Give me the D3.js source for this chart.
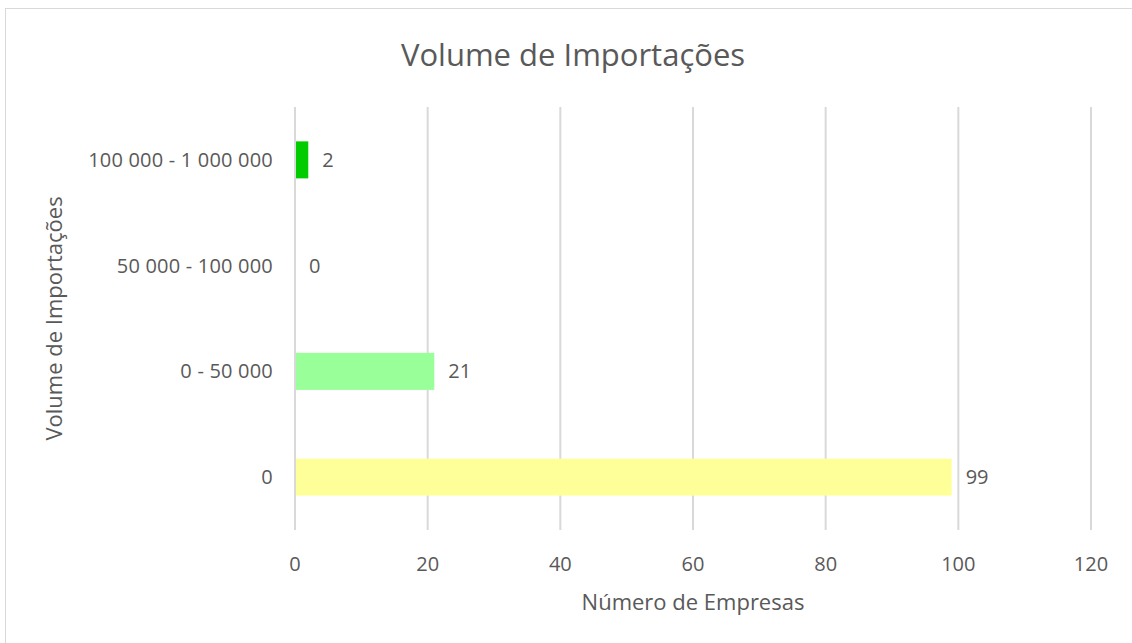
<!DOCTYPE html>
<html>
<head>
<meta charset="utf-8">
<script src="https://cdn.jsdelivr.net/npm/d3@7"></script>
<style>
  body { margin: 0; background: #fff; }
  text { font-family: "Open Sans", "Noto Sans", sans-serif; fill: #595959; }
</style>
</head>
<body>
<div id="chart"></div>
<script>
// chart data
const categories = ["0", "0 - 50 000", "50 000 - 100 000", "100 000 - 1 000 000"];
const values = [99, 21, 0, 2];
const barColors = ["#FFFF99", "#99FF99", "#99FF99", "#00CC00"];
const xTicks = [0, 20, 40, 60, 80, 100, 120];

const width = 1132, height = 643;
const margin = { top: 107, right: 41, bottom: 113, left: 295 };

const svg = d3.select("#chart")
  .append("svg")
  .attr("width", width)
  .attr("height", height);

// chart frame (only top and left edges visible in the crop)
svg.append("rect")
  .attr("x", 5.5).attr("y", 8.5)
  .attr("width", width + 10).attr("height", height + 10)
  .attr("fill", "none")
  .attr("stroke", "#d9d9d9");

const x = d3.scaleLinear()
  .domain([0, 120])
  .range([margin.left, width - margin.right]);

const y = d3.scaleBand()
  .domain(categories.slice().reverse())
  .range([margin.top, height - margin.bottom])
  .paddingInner(0.65)
  .paddingOuter(0.325);

// vertical gridlines
svg.append("g")
  .selectAll("line")
  .data(xTicks)
  .join("line")
  .attr("x1", d => x(d)).attr("x2", d => x(d))
  .attr("y1", margin.top).attr("y2", height - margin.bottom)
  .attr("stroke", "#d9d9d9")
  .attr("stroke-width", 2);

// bars
svg.append("g")
  .selectAll("rect")
  .data(categories)
  .join("rect")
  .attr("x", x(0) + 1)
  .attr("y", d => y(d))
  .attr("width", (d, i) => Math.max(0, x(values[i]) - x(0) - 1))
  .attr("height", y.bandwidth())
  .attr("fill", (d, i) => barColors[i]);

// value labels
svg.append("g")
  .selectAll("text")
  .data(categories)
  .join("text")
  .attr("x", (d, i) => x(values[i]) + 14)
  .attr("y", d => y(d) + y.bandwidth() / 2)
  .attr("dy", "0.35em")
  .style("font-size", "20px")
  .text((d, i) => values[i]);

// x axis tick labels
svg.append("g")
  .selectAll("text")
  .data(xTicks)
  .join("text")
  .attr("x", d => x(d))
  .attr("y", 571)
  .attr("text-anchor", "middle")
  .style("font-size", "20px")
  .text(d => d);

// y axis category labels
svg.append("g")
  .selectAll("text")
  .data(categories)
  .join("text")
  .attr("x", margin.left - 22)
  .attr("y", d => y(d) + y.bandwidth() / 2)
  .attr("dy", "0.35em")
  .attr("text-anchor", "end")
  .style("font-size", "20px")
  .style("letter-spacing", "0.2px")
  .text(d => d);

// title
svg.append("text")
  .attr("x", 573)
  .attr("y", 66)
  .attr("text-anchor", "middle")
  .style("font-size", "31px")
  .text("Volume de Importações");

// axis titles
svg.append("text")
  .attr("x", x(60))
  .attr("y", 610)
  .attr("text-anchor", "middle")
  .style("font-size", "22px")
  .text("Número de Empresas");

svg.append("text")
  .attr("transform", "translate(62," + ((margin.top + height - margin.bottom) / 2) + ") rotate(-90)")
  .attr("text-anchor", "middle")
  .style("font-size", "22px")
  .text("Volume de Importações");
</script>
</body>
</html>
